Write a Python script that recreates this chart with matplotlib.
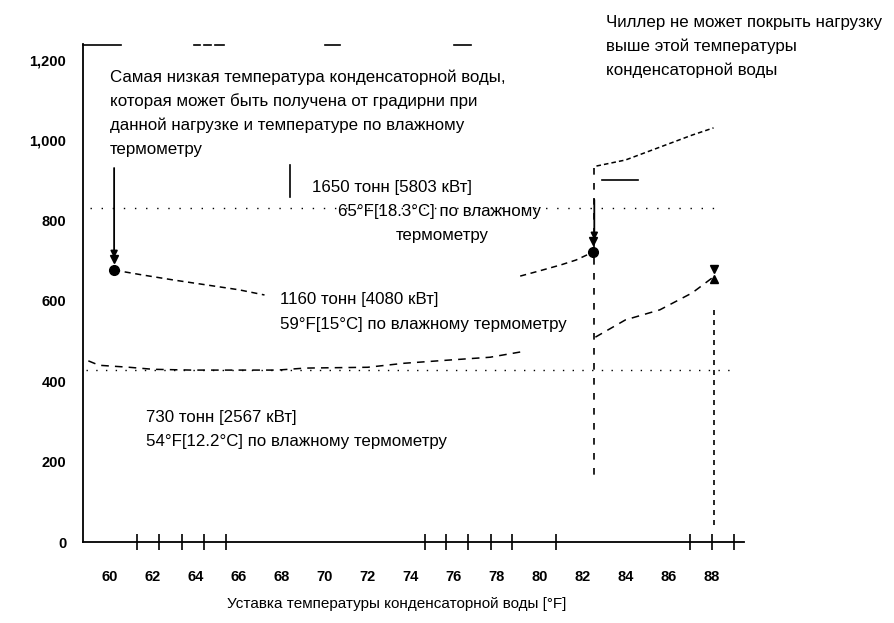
import numpy as np
import matplotlib
matplotlib.use("Agg")
import matplotlib.pyplot as plt

plt.rcParams['font.family'] = ['Liberation Sans', 'DejaVu Sans']

# --- data (x: condenser water setpoint, F; y: kW) ---
x_ticks = [60, 62, 64, 66, 68, 70, 72, 74, 76, 78, 80, 82, 84, 86, 88]
y_ticks = [0, 200, 400, 600, 800, 1000, 1200]
y_tick_labels = ["0", "200", "400", "600", "800", "1,000", "1,200"]

# 730 ton curve (54F wet bulb)
t730_x = [59.0, 59.5, 60.9, 62.0, 63.8, 67.8, 69.1, 72.0, 73.7, 75.8, 77.7, 79.1, np.nan,
          82.6, 84.0, 85.6, 87.1, 88.1]
t730_y = [451, 440, 435, 430, 428, 428, 433, 435, 445, 453, 460, 473, np.nan,
          510, 553, 578, 620, 660]

# 1160 ton curve (59F wet bulb)
t1160_x = [60.2, 61.5, 63.0, 64.5, 66.0, 67.2, np.nan, 79.1, 80.0, 81.0, 81.7, 82.5]
t1160_y = [677, 665, 652, 640, 628, 615, np.nan, 662, 675, 690, 702, 722]

# 1650 ton curve (65F wet bulb)
t1650_x = [82.65, 84.0, 85.6, 87.1, 88.1]
t1650_y = [936, 951, 983, 1013, 1031]

# limit points
low_x = [60.2, 82.5]
low_y = [677, 722]
high_x = [88.1]
high_y = [668]

# odd tick marks along the bottom axis
minor_x = [61.26, 62.28, 63.35, 64.37, 65.4, 74.65, 75.67, 76.65, 77.72, 78.74, 80.79, 87.02, 88.05, 89.07]

fig = plt.figure(figsize=(8.94, 6.23), dpi=100)
ax = fig.add_axes([0.0928, 0.130, 0.739, 0.7995])
ax.set_xlim(58.75, 89.5)
ax.set_ylim(0, 1240)

ax.spines['right'].set_visible(False)
ax.spines['top'].set_visible(False)
ax.spines['left'].set_linewidth(1.3)
ax.spines['bottom'].set_linewidth(1.3)

# broken top frame
ax.plot([58.75, 60.5], [1237, 1237], color='black', lw=1.2, clip_on=False)
for a, b in [(63.9, 64.2), (64.4, 64.7), (64.9, 65.3), (70.0, 70.7), (76.0, 76.8)]:
    ax.plot([a, b], [1237, 1237], color='black', lw=1.2, clip_on=False)

# curves
ax.plot(t730_x, t730_y, color='black', lw=1.1, ls=(0, (5, 4)))
ax.plot(t1160_x, t1160_y, color='black', lw=1.1, ls=(0, (4, 3)))
ax.plot(t1650_x, t1650_y, color='black', lw=1.1, ls=(0, (3, 2)))

# faint horizontal reference lines
ax.plot([59.1, 88.1], [831, 831], color='black', lw=1.0, ls=(0, (1, 7)))
ax.plot([58.9, 89.1], [428, 428], color='black', lw=1.0, ls=(0, (1, 6)))
ax.plot([82.9, 84.6], [901, 901], color='black', lw=1.2)

# vertical limit lines
ax.plot([82.55, 82.55], [931, 162], color='black', lw=1.2, ls=(0, (4, 5)))
ax.plot([88.1, 88.1], [578, 30], color='black', lw=1.2, ls=(0, (3, 3)))
ax.plot([68.4, 68.4], [938, 860], color='black', lw=1.2)

# markers
ax.plot(low_x, low_y, 'o', color='black', ms=7)
ax.plot(low_x, [v + 28 for v in low_y], 'v', color='black', ms=6)
ax.plot(high_x, [v + 12 for v in high_y], 'v', color='black', ms=6)
ax.plot(high_x, [v - 12 for v in high_y], '^', color='black', ms=6)

# arrows
ax.annotate('', xy=(60.2, 700), xytext=(60.2, 938),
            arrowprops=dict(arrowstyle='-|>', color='black', lw=1.3, mutation_scale=10))
ax.annotate('', xy=(82.55, 745), xytext=(82.55, 859),
            arrowprops=dict(arrowstyle='-|>', color='black', lw=1.3, mutation_scale=10))

# ticks
ax.set_xticks(x_ticks)
ax.set_xticklabels([str(v) for v in x_ticks])
ax.set_yticks(y_ticks)
ax.set_yticklabels(y_tick_labels)
ax.tick_params(axis='both', which='major', length=0, labelsize=10.5)
for lab in ax.get_xticklabels() + ax.get_yticklabels():
    lab.set_fontweight('bold')
ax.tick_params(axis='x', pad=20)
ax.tick_params(axis='y', pad=12)
ax.set_xticks(minor_x, minor=True)
ax.tick_params(axis='x', which='minor', direction='inout', length=12, width=1.2)

ax.set_xlabel("Уставка температуры конденсаторной воды [°F]", fontsize=11)
ax.xaxis.set_label_coords(0.475, -0.11)

fs = 12.2
note_lines = ["Самая низкая температура конденсаторной воды,",
              "которая может быть получена от градирни при",
              "данной нагрузке и температуре по влажному",
              "термометру"]
for i, s in enumerate(note_lines):
    ax.text(60.0, 1157.6 - 59.8 * i, s, fontsize=fs, va='center')

chiller_lines = ["Чиллер не может покрыть нагрузку",
                 "выше этой температуры",
                 "конденсаторной воды"]
for i, s in enumerate(chiller_lines):
    ax.text(83.1, 1294.5 - 59.8 * i, s, fontsize=fs, va='center', clip_on=False)

ax.text(69.4, 882, "1650 тонн [5803 кВт]", fontsize=fs, va='center')
ax.text(70.6, 822, "65°F[18.3°C] по влажному", fontsize=fs, va='center')
ax.text(73.3, 762, "термометру", fontsize=fs, va='center')
ax.text(67.9, 603, "1160 тонн [4080 кВт]", fontsize=fs, va='center')
ax.text(67.9, 541, "59°F[15°C] по влажному термометру", fontsize=fs, va='center')
ax.text(61.7, 309, "730 тонн [2567 кВт]", fontsize=fs, va='center')
ax.text(61.7, 249, "54°F[12.2°C] по влажному термометру", fontsize=fs, va='center')

fig.savefig("out.png", dpi=100)
